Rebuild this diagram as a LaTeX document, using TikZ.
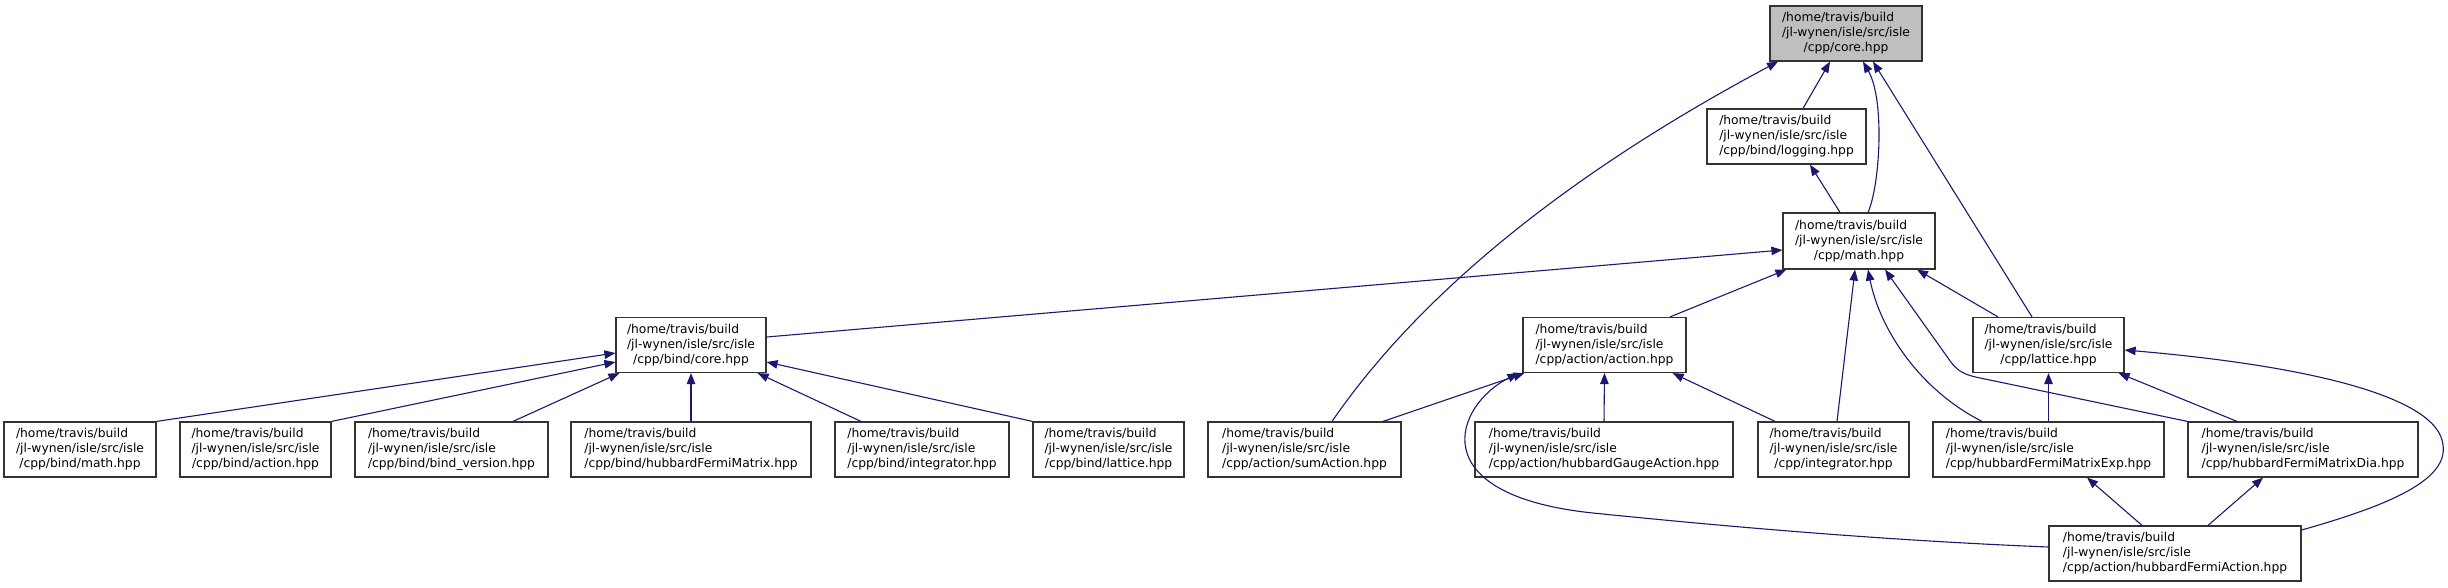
\documentclass[tikz,border=0pt]{standalone}
\usepackage{fontspec}
\setmainfont{DejaVu Sans}
\usetikzlibrary{arrows.meta}
\definecolor{edgec}{HTML}{191970}
\definecolor{rootfill}{HTML}{BFBFBF}
\definecolor{boxc}{HTML}{333333}
\newcommand{\flbl}[1]{\begin{tabular}{@{}l@{}}/home/travis/build\\/jl-wynen/isle/src/isle\\\multicolumn{1}{@{}c@{}}{#1}\end{tabular}}
\tikzset{
  file/.style={draw=boxc, line width=1.2pt, fill=white, rectangle, inner sep=0pt,
    minimum height=55pt, font=\fontsize{12.3pt}{15pt}\selectfont},
  dep/.style={draw=edgec, line width=1.1pt, {Triangle[length=11pt,width=8.5pt]}-}
}
\begin{document}
\begin{tikzpicture}[x=1pt,y=-1pt]
\useasboundingbox (0,0) rectangle (2448,587);
% rows
\node[file, fill=rootfill, minimum width=152pt] (core) at (1846,33.5) {\flbl{/cpp/core.hpp}};
\node[file, minimum width=159pt] (logging) at (1786.5,136.5) {\flbl{/cpp/bind/logging.hpp}};
\node[file, minimum width=152pt, minimum height=56pt] (math) at (1859,241) {\flbl{/cpp/math.hpp}};
\node[file, minimum width=150pt] (bcore) at (691,345) {\flbl{/cpp/bind/core.hpp}};
\node[file, minimum width=163pt] (action) at (1604.5,345) {\flbl{/cpp/action/action.hpp}};
\node[file, minimum width=151pt] (lattice) at (2048.5,345) {\flbl{/cpp/lattice.hpp}};
\node[file, minimum width=152pt] (bmath) at (80,449.5) {\flbl{/cpp/bind/math.hpp}};
\node[file, minimum width=151pt] (baction) at (255.5,449.5) {\flbl{/cpp/bind/action.hpp}};
\node[file, minimum width=193pt] (bversion) at (451.5,449.5) {\flbl{/cpp/bind/bind\_version.hpp}};
\node[file, minimum width=240pt] (bhfm) at (691,449.5) {\flbl{/cpp/bind/hubbardFermiMatrix.hpp}};
\node[file, minimum width=174pt] (binteg) at (922,449.5) {\flbl{/cpp/bind/integrator.hpp}};
\node[file, minimum width=151pt] (blat) at (1108.5,449.5) {\flbl{/cpp/bind/lattice.hpp}};
\node[file, minimum width=193pt] (sum) at (1304.5,449.5) {\flbl{/cpp/action/sumAction.hpp}};
\node[file, minimum width=258pt] (gauge) at (1604,449.5) {\flbl{/cpp/action/hubbardGaugeAction.hpp}};
\node[file, minimum width=151pt] (integ) at (1833.5,449.5) {\flbl{/cpp/integrator.hpp}};
\node[file, minimum width=231pt] (exp) at (2048.5,449.5) {\flbl{/cpp/hubbardFermiMatrixExp.hpp}};
\node[file, minimum width=230pt] (dia) at (2303,449.5) {\flbl{/cpp/hubbardFermiMatrixDia.hpp}};
\node[file, minimum width=252pt] (hfa) at (2175,553.5) {\flbl{/cpp/action/hubbardFermiAction.hpp}};
% edges (tip at the included file)
\draw[dep] ([xshift=-16pt]core.south) -- ([xshift=16.5pt]logging.north);
\draw[dep] ([xshift=17pt]core.south) .. controls (1885,100) and (1880,185) .. ([xshift=9pt]math.north);
\draw[dep] ([xshift=27pt]core.south) -- ([xshift=-16.5pt]lattice.north);
\draw[dep] ([xshift=-68pt]core.south) .. controls (1650,130) and (1450,250) .. ([xshift=27.5pt]sum.north);
\draw[dep] ([xshift=23.5pt]logging.south) -- ([xshift=-19pt]math.north);
\draw[dep] ([yshift=-9pt]math.west) -- ([yshift=8pt]bcore.east);
\draw[dep] ([xshift=4pt]math.south west) -- ([xshift=65.5pt]action.north);
\draw[dep] ([xshift=-4pt]math.south) -- ([xshift=3.5pt]integ.north);
\draw[dep] ([xshift=9pt]math.south) .. controls (1880,330) and (1920,390) .. ([xshift=-66.5pt]exp.north);
\draw[dep] ([xshift=26pt]math.south) -- (1948,358) .. controls (1958,373) and (1965,375) .. (1985,379) -- (dia.north west);
\draw[dep] ([xshift=58pt]math.south) -- ([xshift=-50.5pt]lattice.north);
\draw[dep] ([yshift=-8pt]bcore.west) -- (bmath.north east);
\draw[dep] ([yshift=-17pt]bcore.west) -- (baction.north east);
\draw[dep] ([xshift=4pt]bcore.south west) -- ([xshift=61.5pt]bversion.north);
\draw[dep] (bcore.south) -- (bhfm.north);
\draw[dep] ([xshift=-9pt]bcore.south east) -- ([xshift=-61pt]binteg.north);
\draw[dep] ([yshift=-17pt]bcore.east) -- (blat.north west);
\draw[dep] ([xshift=2pt]action.south west) -- ([xshift=78.5pt]sum.north);
\draw[dep] (action.south) -- (gauge.north);
\draw[dep] ([xshift=-14pt]action.south east) -- ([xshift=-58.5pt]integ.north);
\draw[dep] ([xshift=-4pt]action.south west) .. controls (1455,405) and (1420,495) .. (1593,513) .. controls (1750,529) and (1900,541) .. ([yshift=6.5pt]hfa.west);
\draw[dep] (lattice.south) -- (exp.north);
\draw[dep] ([xshift=-6pt]lattice.south east) -- ([xshift=-66pt]dia.north);
\draw[dep] ([yshift=-5pt]lattice.east) .. controls (2300,365) and (2438,395) .. (2443,445) .. controls (2448,480) and (2390,505) .. ([yshift=23.5pt]hfa.east);
\draw[dep] ([xshift=38.5pt]exp.south) -- ([xshift=-33pt]hfa.north);
\draw[dep] ([xshift=-40pt]dia.south) -- ([xshift=33pt]hfa.north);
\end{tikzpicture}
\end{document}
